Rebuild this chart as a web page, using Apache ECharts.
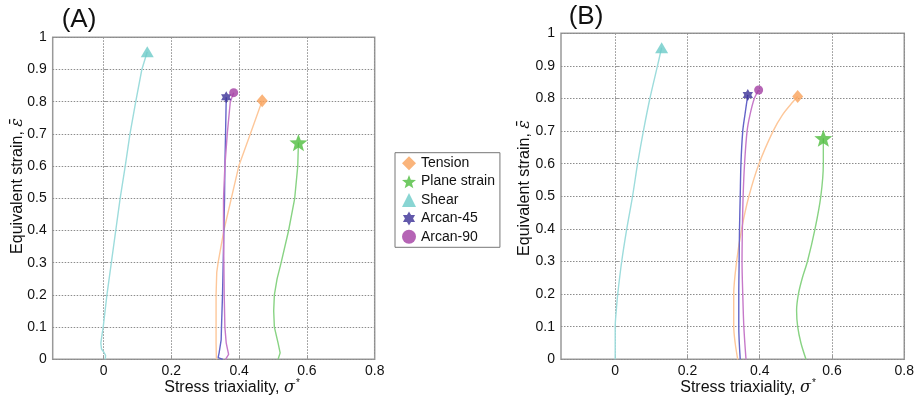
<!DOCTYPE html>
<html>
<head>
<meta charset="utf-8">
<script src="https://cdn.jsdelivr.net/npm/echarts@6/dist/echarts.min.js"></script>
<style>
  html, body { margin: 0; padding: 0; background: #fff; }
  #chart { width: 917px; height: 403px; }
</style>
</head>
<body>
<div id="chart"></div>
<script>
// ---- data: [stress triaxiality, equivalent strain]; last point = fracture marker ----
const xTickValues = [0, 0.2, 0.4, 0.6, 0.8];

// (A)
const tensionA = [[0.333,0],[0.332,0.05],[0.332,0.1],[0.332,0.2],[0.334,0.27],[0.338,0.3],[0.355,0.4],[0.377,0.5],[0.399,0.6],[0.433,0.7],[0.468,0.803]];
const planeStrainA = [[0.515,0],[0.521,0.02],[0.515,0.05],[0.504,0.1],[0.502,0.15],[0.504,0.2],[0.512,0.25],[0.524,0.3],[0.546,0.4],[0.564,0.5],[0.573,0.6],[0.575,0.673]];
const shearA = [[0.005,0],[0.006,0.012],[0.001,0.022],[-0.006,0.032],[-0.008,0.05],[-0.004,0.08],[-0.001,0.1],[0.010,0.2],[0.023,0.3],[0.036,0.4],[0.049,0.5],[0.064,0.6],[0.078,0.7],[0.095,0.8],[0.113,0.9],[0.129,0.955]];
const arcan45A = [[0.352,0],[0.338,0.005],[0.341,0.02],[0.347,0.06],[0.348,0.1],[0.351,0.2],[0.353,0.3],[0.355,0.4],[0.357,0.5],[0.358,0.6],[0.360,0.7],[0.362,0.814]];
const arcan90A = [[0.360,0],[0.369,0.015],[0.366,0.03],[0.362,0.05],[0.358,0.1],[0.356,0.2],[0.355,0.3],[0.354,0.4],[0.354,0.5],[0.358,0.6],[0.365,0.7],[0.374,0.8],[0.384,0.828]];

// (B)
const tensionB = [[0.339,0],[0.332,0.05],[0.328,0.1],[0.328,0.2],[0.336,0.3],[0.350,0.4],[0.370,0.5],[0.398,0.6],[0.437,0.7],[0.463,0.75],[0.492,0.79],[0.505,0.806]];
const planeStrainB = [[0.528,0],[0.514,0.05],[0.505,0.1],[0.502,0.15],[0.507,0.2],[0.518,0.25],[0.532,0.3],[0.553,0.4],[0.569,0.5],[0.576,0.6],[0.576,0.678]];
const shearB = [[0,0],[0,0.05],[0,0.1],[0.003,0.15],[0.007,0.2],[0.018,0.3],[0.032,0.4],[0.048,0.5],[0.062,0.6],[0.078,0.7],[0.096,0.8],[0.117,0.9],[0.1285,0.956]];
const arcan45B = [[0.346,0],[0.342,0.1],[0.342,0.2],[0.343,0.3],[0.344,0.4],[0.346,0.5],[0.348,0.6],[0.353,0.7],[0.359,0.75],[0.367,0.811]];
const arcan90B = [[0.362,0],[0.356,0.1],[0.353,0.2],[0.351,0.3],[0.352,0.4],[0.354,0.5],[0.358,0.6],[0.365,0.7],[0.373,0.75],[0.385,0.8],[0.397,0.826]];

const loadCases = ['Tension', 'Plane strain', 'Shear', 'Arcan-45', 'Arcan-90'];

// ---- styling ----
const FONT = '"Liberation Sans", Arial, sans-serif';

function starPath(points, inner) {
  let d = '';
  for (let i = 0; i < points * 2; i++) {
    const r = i % 2 === 0 ? 1 : inner;
    const a = -Math.PI / 2 + i * Math.PI / points;
    const x = (r * Math.cos(a)).toFixed(4);
    const y = (r * Math.sin(a)).toFixed(4);
    d += (i === 0 ? 'M' : 'L') + x + ' ' + y + ' ';
  }
  return 'path://' + d + 'Z';
}
const STAR5 = starPath(5, 0.42);
const STAR6 = starPath(6, 0.58);

const style = {
  'Tension':      { marker: '#f9a15a', line: '#fdc79a', symbol: 'diamond',  size: [11, 13] },
  'Plane strain': { marker: '#4dbd3d', line: '#88d383', symbol: STAR5,      size: 18 },
  'Shear':        { marker: '#6ccac8', line: '#9ddcdc', symbol: 'triangle', size: [13, 11] },
  'Arcan-45':     { marker: '#3b2f96', line: '#6464c8', symbol: STAR6,      size: 12 },
  'Arcan-90':     { marker: '#a23da3', line: '#c679c9', symbol: 'circle',   size: 9 }
};

const panels = [
  { data: [tensionA, planeStrainA, shearA, arcan45A, arcan90A], smooth: false },
  { data: [tensionB, planeStrainB, shearB, arcan45B, arcan90B], smooth: 0.3 }
];

const grids = [
  { left: 52.7, top: 37.3, width: 322, height: 322 },
  { left: 561, top: 33.3, width: 344.3, height: 326 }
];

const gridLine = { show: true, lineStyle: { color: '#8c8c8c', width: 1, type: [1.5, 1.5] } };

const xAxes = grids.map((g, i) => ({
  type: 'value', gridIndex: i, min: -0.15, max: 0.8,
  axisLine: { show: false },
  axisTick: { show: true, inside: true, length: 4, lineStyle: { color: '#999' }, customValues: xTickValues },
  axisLabel: { customValues: xTickValues, color: '#111', fontFamily: FONT, fontSize: 14, margin: 5,
               formatter: v => String(Math.round(v * 10) / 10) },
  splitLine: gridLine
}));

const yAxes = grids.map((g, i) => ({
  type: 'value', gridIndex: i, min: 0, max: 1, interval: 0.1,
  axisLine: { show: false },
  axisTick: { show: true, inside: true, length: 4, lineStyle: { color: '#999' } },
  axisLabel: { color: '#111', fontFamily: FONT, fontSize: 14, margin: 6,
               formatter: v => String(Math.round(v * 10) / 10) },
  splitLine: gridLine
}));

const series = [];
panels.forEach((p, gi) => {
  p.data.forEach((pts, k) => {
    const name = loadCases[k];
    const s = style[name];
    series.push({
      type: 'line', name: name + ' path', xAxisIndex: gi, yAxisIndex: gi,
      data: pts, symbol: 'none', smooth: p.smooth, silent: true,
      lineStyle: { color: s.line, width: 1.4 }, z: 3
    });
  });
  p.data.forEach((pts, k) => {
    const name = loadCases[k];
    const s = style[name];
    series.push({
      type: 'scatter', name: name, xAxisIndex: gi, yAxisIndex: gi,
      data: [pts[pts.length - 1]], symbol: s.symbol, symbolSize: s.size,
      symbolKeepAspect: true, itemStyle: { color: s.marker }, z: 5
    });
  });
});

function label(text, x, y, rot, rich) {
  return {
    type: 'text', x: x, y: y, rotation: rot || 0,
    style: { text: text, rich: rich, font: '16px ' + FONT, fill: '#111', align: 'center', verticalAlign: 'middle' }
  };
}

const xNameRich = {
  n: { fontSize: 16, fontFamily: FONT, fill: '#111' },
  s: { fontSize: 16, fontFamily: 'DejaVu Serif, serif', fontStyle: 'italic', fill: '#111' },
  sup: { fontSize: 10, fontFamily: FONT, fill: '#111', padding: [0, 0, 10, 1] }
};
const yNameRich = {
  n: { fontSize: 16, fontFamily: FONT, fill: '#111' },
  e: { fontSize: 16, fontFamily: 'DejaVu Serif, serif', fontStyle: 'italic', fill: '#111' }
};
const xNameText = '{n|Stress triaxiality, }{s|σ}{sup|*}';
const yNameText = '{n|Equivalent strain, }{e|ε\u0304}';

const option = {
  animation: false,
  backgroundColor: '#fff',
  grid: grids.map(g => Object.assign({ show: true, borderColor: '#999', borderWidth: 1.5, backgroundColor: 'transparent' }, g)),
  xAxis: xAxes,
  yAxis: yAxes,
  legend: {
    orient: 'vertical', left: 395, top: 152.7,
    padding: [3.5, 5, 3.5, 7], itemGap: 4.4, itemWidth: 14, itemHeight: 14,
    borderColor: '#777', borderWidth: 1, backgroundColor: '#fff',
    textStyle: { fontFamily: FONT, fontSize: 14, color: '#111' },
    data: loadCases.map(n => ({ name: n, icon: style[n].symbol }))
  },
  graphic: [
    { type: 'text', x: 79, y: 20, style: { text: '(A)', font: '26px ' + FONT, fill: '#111', align: 'center', verticalAlign: 'middle' } },
    { type: 'text', x: 586, y: 17, style: { text: '(B)', font: '26px ' + FONT, fill: '#111', align: 'center', verticalAlign: 'middle' } },
    label(xNameText, 232, 388, 0, xNameRich),
    label(xNameText, 748, 388, 0, xNameRich),
    label(yNameText, 18, 186, Math.PI / 2, yNameRich),
    label(yNameText, 525, 188, Math.PI / 2, yNameRich)
  ],
  series: series
};

const chart = echarts.init(document.getElementById('chart'), null, { renderer: 'canvas' });
chart.setOption(option);
</script>
</body>
</html>
